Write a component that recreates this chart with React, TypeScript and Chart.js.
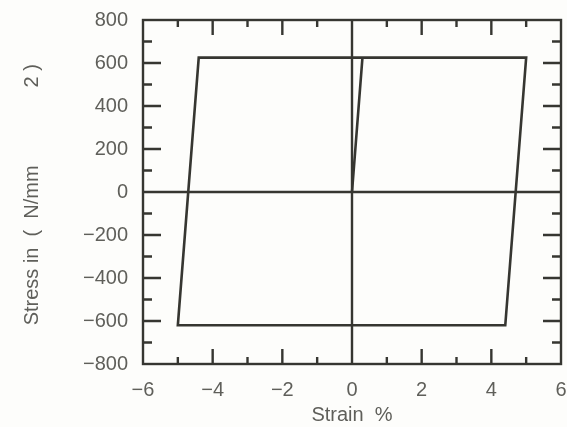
import React, { useEffect, useRef } from "react";
import { Chart, registerables } from "chart.js";

Chart.register(...registerables);

const strain: number[] = [0, 0.3, 5.0, 4.4, -5.0, -4.4, 0.3];
const stress: number[] = [0, 625, 625, -620, -620, 625, 625];

const xMin = -6, xMax = 6, xStep = 2, xMinor = 1;
const yMin = -800, yMax = 800, yStep = 200, yMinor = 100;

const xTitle = "Strain  %";
const yTitle = "Stress in  (  N/mm              2 ) ";

const INK = "#363631";
const LABEL = "#5f5f5a";
const FONT = "Liberation Sans";

const frame = {
  id: "frame",
  afterDatasetsDraw(chart: any) {
    const { ctx, chartArea: a, scales } = chart;
    const x = scales.x, y = scales.y;
    ctx.save();
    ctx.strokeStyle = INK;
    ctx.lineWidth = 2.4;
    ctx.lineCap = "butt";
    ctx.strokeRect(a.left, a.top, a.right - a.left, a.bottom - a.top);
    const x0 = x.getPixelForValue(0), y0 = y.getPixelForValue(0);
    ctx.beginPath();
    ctx.moveTo(x0, a.top); ctx.lineTo(x0, a.bottom);
    ctx.moveTo(a.left, y0); ctx.lineTo(a.right, y0);
    ctx.stroke();
    ctx.beginPath();
    for (let v = xMin + xMinor; v < xMax; v += xMinor) {
      if (v === 0) continue;
      const px = x.getPixelForValue(v);
      const major = Math.abs(v % xStep) < 1e-9;
      const len = major ? 15 : 7;
      ctx.moveTo(px, a.top); ctx.lineTo(px, a.top + len);
      ctx.moveTo(px, a.bottom); ctx.lineTo(px, a.bottom - len);
    }
    for (let v = yMin + yMinor; v < yMax; v += yMinor) {
      if (v === 0) continue;
      const py = y.getPixelForValue(v);
      const major = Math.abs(v % yStep) < 1e-9;
      const len = major ? 18 : 9;
      ctx.moveTo(a.left, py); ctx.lineTo(a.left + len, py);
      ctx.moveTo(a.right, py); ctx.lineTo(a.right - len, py);
    }
    ctx.stroke();
    ctx.restore();
  },
};

export default function App() {
  const ref = useRef<HTMLCanvasElement | null>(null);
  useEffect(() => {
    if (!ref.current) return;
    const pts = strain.map((s, i) => ({ x: s, y: stress[i] }));
    const fmt = (v: any) => String(v).replace("-", "\u2212");
    const chart = new Chart(ref.current, {
      type: "scatter",
      data: {
        datasets: [
          {
            data: pts,
            showLine: true,
            borderColor: INK,
            borderWidth: 2.6,
            pointRadius: 0,
            tension: 0,
            fill: false,
          },
        ],
      },
      plugins: [frame],
      options: {
        animation: false,
        responsive: false,
        maintainAspectRatio: false,
        layout: { padding: { top: 20, right: 6, left: 0, bottom: 0 } },
        plugins: { legend: { display: false }, tooltip: { enabled: false } },
        scales: {
          x: {
            type: "linear",
            min: xMin,
            max: xMax,
            grid: { display: false, drawTicks: false },
            border: { display: false },
            ticks: {
              stepSize: xStep,
              padding: 14,
              color: LABEL,
              font: { family: FONT, size: 20 },
              callback: fmt,
              maxRotation: 0,
            },
            title: {
              display: true,
              text: xTitle,
              color: LABEL,
              font: { family: FONT, size: 20 },
              padding: { top: 0, bottom: 0 },
            },
            afterFit: (s: any) => { s.height = 63; s.paddingLeft = 0; s.paddingRight = 0; },
          },
          y: {
            type: "linear",
            min: yMin,
            max: yMax,
            grid: { display: false, drawTicks: false },
            border: { display: false },
            ticks: {
              stepSize: yStep,
              padding: 15,
              color: LABEL,
              font: { family: FONT, size: 20 },
              callback: fmt,
            },
            title: {
              display: true,
              text: yTitle,
              color: LABEL,
              font: { family: FONT, size: 20 },
              padding: { top: 20, bottom: 0 },
            },
            afterFit: (s: any) => { s.width = 143; s.paddingTop = 0; s.paddingBottom = 0; },
          },
        },
      },
    });
    return () => chart.destroy();
  }, []);
  return (
    <div style={{ position: "absolute", left: 0, top: 0, width: 567, height: 427, background: "#fdfdfb" }}>
      <canvas ref={ref} width={567} height={427} style={{ width: 567, height: 427 }} />
    </div>
  );
}
